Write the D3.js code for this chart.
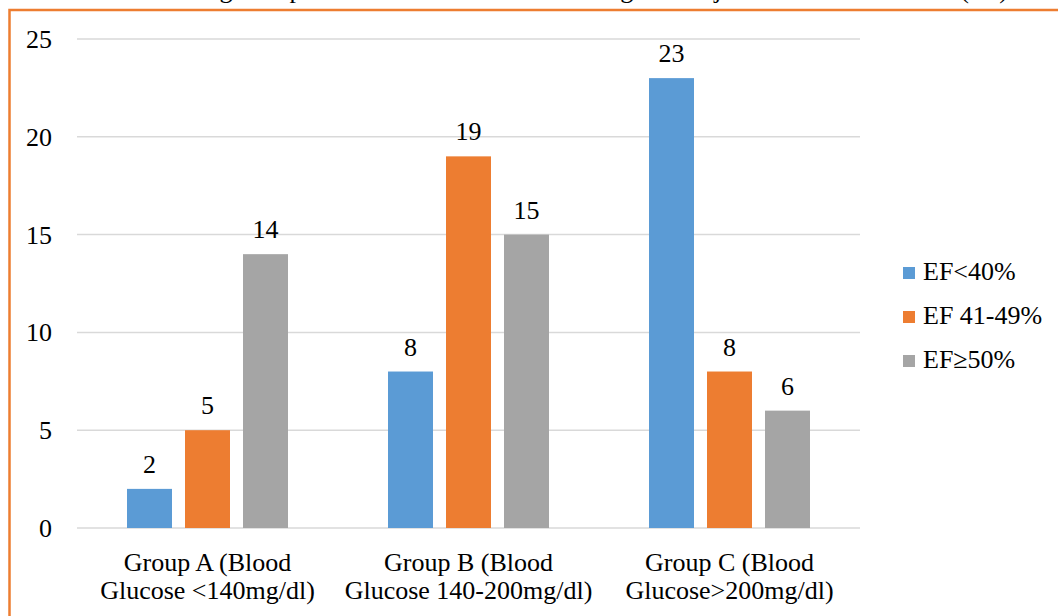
<!DOCTYPE html>
<html><head><meta charset="utf-8">
<script src="https://cdn.jsdelivr.net/npm/d3@7"></script>
<style>
html,body{margin:0;padding:0;background:#fff;overflow:hidden}
svg text{font-family:"Liberation Serif","Times New Roman",Times,serif;font-size:26px;fill:#000}
</style>
</head><body>
<svg id="c" width="1058" height="616"></svg>
<script>
const categories = [["Group A (Blood", "Glucose <140mg/dl)"], ["Group B (Blood", "Glucose 140-200mg/dl)"], ["Group C (Blood", "Glucose>200mg/dl)"]];
const seriesNames = ["EF<40%", "EF 41-49%", "EF\u226550%"];
const efBelow40 = [2, 8, 23];
const ef41to49 = [5, 19, 8];
const ef50plus = [14, 15, 6];
const yTicks = [0, 5, 10, 15, 20, 25];
const colors = ["#5B9BD5", "#ED7D31", "#A5A5A5"];
const titleText = "Bar chart showing Comparison of Blood Glucose among three Ejection Fraction Levels (EF)";

const seriesValues = [efBelow40, ef41to49, ef50plus];
const svg = d3.select("#c");

// title above the frame, cut off at the top edge as in the reference
const title = svg.append("text").attr("x", 0).attr("y", -2).text(titleText);
{
  const node = title.node();
  const gi = titleText.indexOf("g");
  const ext = node.getExtentOfChar(gi);
  title.attr("x", 226 - (ext.x + ext.width / 2));
}

// border
svg.append("rect").attr("x", 9.5).attr("y", 10).attr("width", 1100).attr("height", 700)
  .attr("fill", "none").attr("stroke", "#ED7D31").attr("stroke-width", 2.5);

const y = d3.scaleLinear().domain([0, 25]).range([528, 39]);
const x0 = d3.scaleBand().domain(d3.range(categories.length)).range([77, 860]).padding(0);
const x1 = d3.scaleBand().domain(d3.range(seriesNames.length)).range([50, 211]).paddingInner(13/58).paddingOuter(0);

// gridlines
svg.append("g").selectAll("line").data(yTicks).join("line")
  .attr("x1", 77).attr("x2", 860).attr("y1", d => y(d)).attr("y2", d => y(d))
  .attr("stroke", "#D9D9D9").attr("stroke-width", 1.5);

// y tick labels via axis
const yAxis = svg.append("g").attr("transform", "translate(52,0)")
  .call(d3.axisLeft(y).tickValues(yTicks).tickSize(0).tickPadding(0).tickFormat(d3.format("d")));
yAxis.attr("font-family", null).attr("font-size", null);
yAxis.select(".domain").remove();
yAxis.selectAll("text").attr("dy", "0.33em");

// bars
const groups = svg.append("g").selectAll("g").data(categories).join("g")
  .attr("transform", (d, i) => `translate(${x0(i)},0)`);
groups.each(function(cat, ci) {
  const g = d3.select(this);
  seriesValues.forEach((vals, si) => {
    g.append("rect").attr("x", x1(si)).attr("width", x1.bandwidth())
      .attr("y", y(vals[ci])).attr("height", y(0) - y(vals[ci])).attr("fill", colors[si]);
    g.append("text").attr("x", x1(si) + x1.bandwidth() / 2).attr("y", y(vals[ci]) - 16)
      .attr("text-anchor", "middle").text(vals[ci]);
  });
  const t = g.append("text").attr("text-anchor", "middle");
  cat.forEach((line, li) => {
    t.append("tspan").attr("x", x0.bandwidth() / 2).attr("y", 571 + li * 28).text(line);
  });
});

// legend
const leg = svg.append("g").selectAll("g").data(seriesNames).join("g")
  .attr("transform", (d, i) => `translate(903,${267 + i * 44})`);
leg.append("rect").attr("width", 12).attr("height", 12).attr("fill", (d, i) => colors[i]);
leg.append("text").attr("x", 20).attr("y", 13).text(d => d);
</script>
</body></html>
